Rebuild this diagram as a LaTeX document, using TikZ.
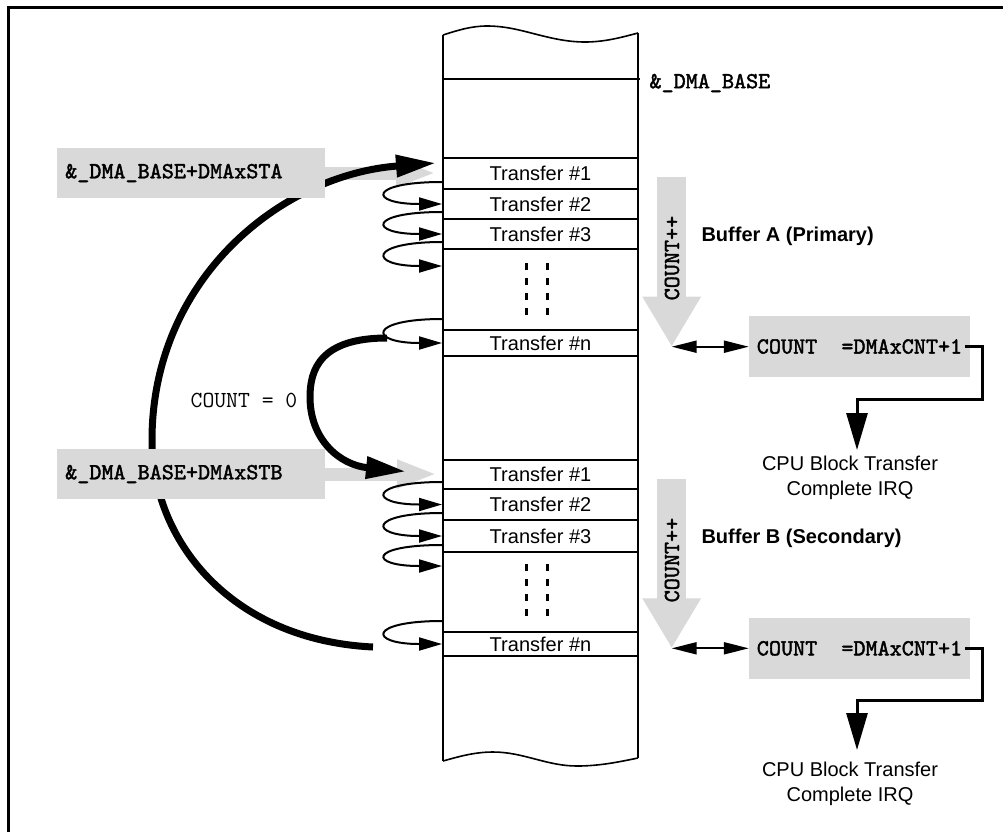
\documentclass[tikz,border=0pt]{standalone}
\usepackage{fontspec}
\setmainfont{Liberation Sans}
\newfontface\codebold{lmmono10-regular.otf}[FakeBold=1.8]
\usepackage{tikz}
\usetikzlibrary{arrows.meta, calc, backgrounds}

\definecolor{boxgray}{RGB}{217,217,217}

\tikzset{
    wall/.style={line width=2.2pt},
    rowbox/.style={draw, line width=2pt, minimum width=195pt, inner sep=0pt, font=\fontsize{20}{24}\selectfont},
    codefont/.style={font=\codebold\fontsize{23}{26}\selectfont},
    addrbox/.style={codefont, fill=boxgray, anchor=west, minimum width=268pt, minimum height=50pt, text width=252pt, inner xsep=8pt, align=left},
    cntbox/.style={codefont, fill=boxgray, minimum width=221pt, minimum height=61pt, inner sep=0pt},
    grayarrow/.style={boxgray, line width=13pt, -{Triangle[length=40pt,width=26pt]}},
    countarrow/.style={boxgray, line width=29pt, -{Triangle[length=50pt,width=55pt]}},
    loopy/.style={line width=2pt, -{Triangle[length=23pt,width=13pt]}},
    bigarc/.style={line width=7pt, -{Triangle[length=40pt,width=21pt]}},
    dblarrow/.style={line width=2pt, {Triangle[length=25pt,width=12pt]}-{Triangle[length=25pt,width=12pt]}},
    irqline/.style={line width=3pt, -{Triangle[length=37pt,width=21pt]}},
    dots/.style={line width=3pt, dash pattern=on 7pt off 8pt},
    buflabel/.style={anchor=west, font=\bfseries\fontsize{20}{24}\selectfont},
    irqlabel/.style={align=center, font=\fontsize{20}{25}\selectfont}
}

\begin{document}
\begin{tikzpicture}[x=1pt, y=-1pt]
    \useasboundingbox (0,0) rectangle (1003,831);
    % frame, cut at the page edge
    \draw[line width=2.5pt] (1010,7.5) -| (8.5,840);

    % memory column
    \draw[wall] (443,35) -- (443,761);
    \draw[wall] (638,33) -- (638,758);
    \draw[line width=1.6pt] (443,35) sin (487,26) cos (535,34) sin (585,42) cos (638,33);
    \draw[line width=1.6pt] (443,761) sin (493,752) cos (535,759) sin (577,766) cos (638,758);
    \draw[wall] (443,79) -- (640,79);
    \node[codefont, anchor=west] (base) at (646,83) {\&\_DMA\_BASE};

    \foreach \nm/\yc/\hh/\lbl in {a1/173.5/31/1, a2/204/30/2, a3/234/30/3, an/343/26/n,
                                  b1/474.5/29/1, b2/504.5/31/2, b3/536/32/3, bn/644/24/n} {
        \node[rowbox, minimum height=\hh pt] (\nm) at (540.5,\yc) {Transfer \#\lbl};
    }
    \foreach \xx in {526,547} {
        \draw[dots] (\xx,263) -- (\xx,316);
        \draw[dots] (\xx,564) -- (\xx,617);
    }

    % start address boxes
    \node[addrbox] (sta) at (57,173) {\&\_DMA\_BASE+DMAxSTA};
    \node[addrbox] (stb) at (57,474) {\&\_DMA\_BASE+DMAxSTB};

    \begin{pgfonlayer}{background}
        \draw[grayarrow] (sta.east) -- ($(sta.east -| a1.west)+(-6,0)$);
        \draw[grayarrow] (stb.east) -- ($(stb.east -| b1.west)+(-5,0)$);
        % buffer switching
        \coordinate (endA) at (387,338);
        \coordinate (endB) at (373,647);
        \draw[bigarc] (endA) .. controls (320,338) and (310,370) .. (310,397)
                             .. controls (310,440) and (340,465) .. ($(b1.west)+(-36,-3)$);
        \draw[bigarc] (endB) .. controls (230,640) and (152,540) .. (152,440)
                             .. controls (152,280) and (280,175) .. ($(a1.north west)+(-6,6)$);
    \end{pgfonlayer}
    \node[font=\ttfamily\fontsize{23}{26}\selectfont] (zero) at (244,400) {COUNT = 0};

    % transfer to transfer
    \coordinate (ga) at ($(a3.south west)+(0,16)$);
    \coordinate (gb) at ($(b3.south west)+(0,13)$);
    \foreach \from/\to in {a1/a2, a2/a3, b1/b2, b2/b3} {
        \draw[loopy] ($(\from.south west)+(0,-8)$) .. controls +(-74,0) and +(-74,0) .. (\to.west);
    }
    \draw[loopy] ($(a3.south west)+(0,-8)$) .. controls +(-74,0) and +(-74,0) .. (ga);
    \draw[loopy] ($(b3.south west)+(0,-8)$) .. controls +(-74,0) and +(-74,0) .. (gb);
    \draw[loopy] ($(an.north west)+(0,-10)$) .. controls +(-74,0) and +(-74,0) .. (an.west);
    \draw[loopy] ($(bn.north west)+(0,-10)$) .. controls +(-74,0) and +(-74,0) .. (bn.west);

    % counters
    \coordinate (tipA) at (671.7,346.7);
    \coordinate (tipB) at (671.7,648.3);
    \draw[countarrow] (671.7,176.7) -- (tipA);
    \draw[countarrow] (671.7,479.3) -- (tipB);
    \node[rotate=90, codefont] (incA) at (672,258) {COUNT++};
    \node[rotate=90, codefont] (incB) at (672,560) {COUNT++};
    \node[buflabel] (bufA) at (698,236) {Buffer A (Primary)};
    \node[buflabel] (bufB) at (698,538) {Buffer B (Secondary)};

    \node[cntbox] (cntA) at (859.5,346.5) {COUNT\hspace{1.05em}=DMAxCNT+1};
    \node[cntbox] (cntB) at (859.5,648.3) {COUNT\hspace{1.05em}=DMAxCNT+1};
    \draw[dblarrow] (tipA) -- (tipA -| cntA.west);
    \draw[dblarrow] (tipB) -- (tipB -| cntB.west);

    \coordinate (hitA) at (857,450);
    \coordinate (hitB) at (857,750);
    \draw[irqline] ($(cntA.east)+(-5,0)$) -| ($(cntA.east)+(12,53)$) -| (hitA);
    \draw[irqline] ($(cntB.east)+(-5,0)$) -| ($(cntB.east)+(12,52)$) -| (hitB);
    \node[irqlabel] (irqA) at (850,477.5) {CPU Block Transfer\\Complete IRQ};
    \node[irqlabel] (irqB) at (850,784) {CPU Block Transfer\\Complete IRQ};
\end{tikzpicture}
\end{document}
